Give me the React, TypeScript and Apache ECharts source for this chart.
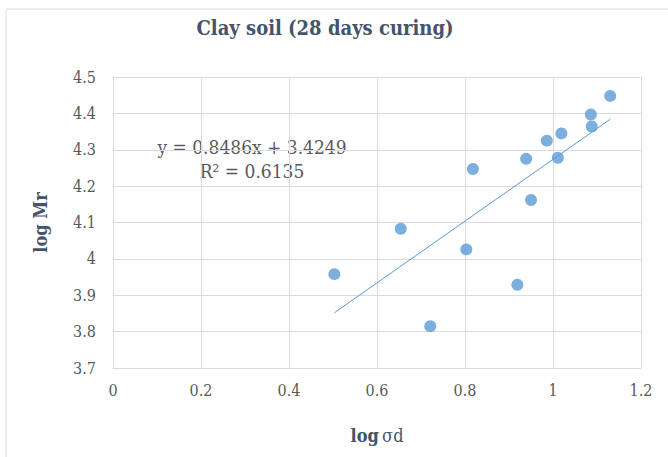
import React, { useEffect, useRef } from "react";
import * as echarts from "echarts";

const logSigmaD = [0.503, 0.654, 0.721, 0.803, 0.818, 0.919, 0.939, 0.95, 0.986, 1.011, 1.019, 1.086, 1.088, 1.13];
const logMr = [3.958, 4.083, 3.815, 4.026, 4.247, 3.929, 4.275, 4.162, 4.325, 4.278, 4.345, 4.397, 4.364, 4.448];
const slope = 0.8486;
const intercept = 3.4249;
const rSquared = "0.6135";
const xTicks = { min: 0, max: 1.2, interval: 0.2 };
const yTicks = { min: 3.7, max: 4.5, interval: 0.1 };

const FONT = "DejaVu Serif Condensed";
const TEXT = "#595959";
const TITLE = "#44546a";
const BLUE = "#5b9bd5";
const GRID = "#d9d9e3";

export default function App() {
  const ref = useRef<HTMLDivElement>(null);
  useEffect(() => {
    if (!ref.current) return;
    const chart = echarts.init(ref.current, null, { renderer: "svg" });
    const xMin = Math.min(...logSigmaD);
    const xMax = Math.max(...logSigmaD);
    chart.setOption({
      animation: false,
      backgroundColor: "#ffffff",
      title: {
        text: "Clay soil (28 days curing)",
        left: 320,
        top: 13,
        textAlign: "center",
        textStyle: { fontFamily: FONT, fontSize: 20, fontWeight: "bold", color: TITLE },
      },
      grid: { left: 113, right: 27, top: 77, bottom: 89 },
      xAxis: {
        type: "value",
        min: xTicks.min,
        max: xTicks.max,
        interval: xTicks.interval,
        axisLine: { show: true, lineStyle: { color: GRID } },
        axisTick: { show: false },
        splitLine: { show: true, lineStyle: { color: GRID, width: 1 } },
        axisLabel: { fontFamily: FONT, fontSize: 16, color: TEXT, margin: 14, formatter: (v: number) => String(+v.toFixed(1)) },
        name: "{b|log} {r|σd}",
        nameLocation: "middle",
        nameGap: 58,
        nameTextStyle: {
          rich: {
            b: { fontFamily: FONT, fontSize: 18, fontWeight: "bold", color: TITLE },
            r: { fontFamily: FONT, fontSize: 18, color: TITLE },
          },
        },
      },
      yAxis: {
        type: "value",
        min: yTicks.min,
        max: yTicks.max,
        interval: yTicks.interval,
        axisLine: { show: true, lineStyle: { color: GRID } },
        axisTick: { show: false },
        splitLine: { show: true, lineStyle: { color: GRID, width: 1 } },
        axisLabel: { fontFamily: FONT, fontSize: 16, color: TEXT, margin: 17, formatter: (v: number) => String(+v.toFixed(1)) },
        name: "log Mr",
        nameLocation: "middle",
        nameGap: 64,
        nameRotate: 90,
        nameTextStyle: { fontFamily: FONT, fontSize: 18, fontWeight: "bold", color: TITLE },
      },
      series: [
        {
          type: "line",
          data: [
            [xMin, slope * xMin + intercept],
            [xMax, slope * xMax + intercept],
          ],
          showSymbol: false,
          symbol: "none",
          lineStyle: { color: BLUE, width: 1 },
          z: 2,
        },
        {
          type: "scatter",
          data: logSigmaD.map((x, i) => [x, logMr[i]]),
          symbolSize: 12,
          itemStyle: { color: BLUE },
          z: 3,
        },
      ],
      graphic: [
        {
          type: "rect",
          shape: { x: 6, y: 9, width: 700, height: 500 },
          style: { fill: "none", stroke: GRID, lineWidth: 1 },
          silent: true,
          z: -1,
        },
        {
          type: "text",
          x: 252,
          y: 147,
          style: {
            text: `y = ${slope}x + ${intercept}`,
            fontFamily: FONT,
            fontSize: 19,
            fill: TEXT,
            textAlign: "center",
            textVerticalAlign: "middle",
          },
        },
        {
          type: "text",
          x: 252,
          y: 171,
          style: {
            text: `R² = ${rSquared}`,
            fontFamily: FONT,
            fontSize: 19,
            fill: TEXT,
            textAlign: "center",
            textVerticalAlign: "middle",
          },
        },
      ],
    });
    return () => chart.dispose();
  }, []);
  return <div ref={ref} style={{ width: 668, height: 457, position: "absolute", left: 0, top: 0 }} />;
}
